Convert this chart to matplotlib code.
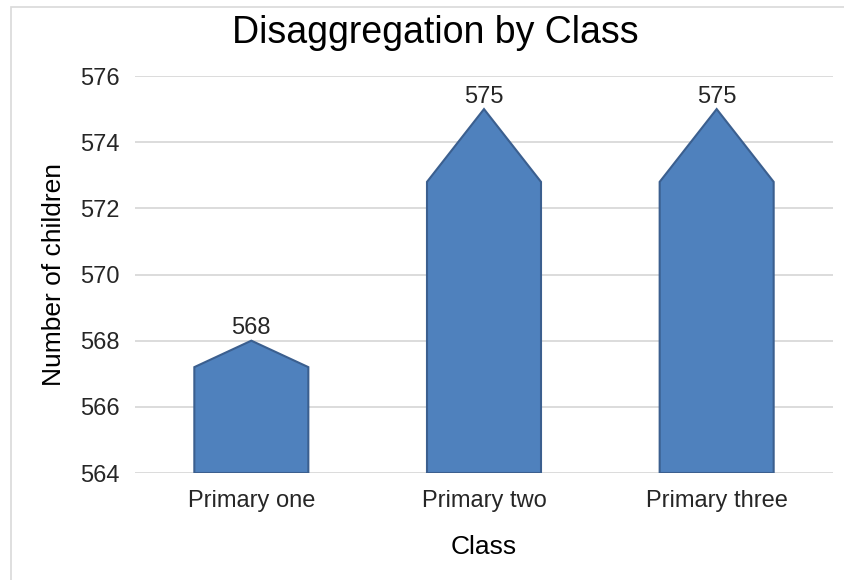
import matplotlib.pyplot as plt
from matplotlib.patches import Polygon, Rectangle

plt.rcParams['font.family'] = ['Liberation Sans', 'DejaVu Sans']

categories = ["Primary one", "Primary two", "Primary three"]
counts = [568, 575, 575]
y_ticks = [564, 566, 568, 570, 572, 574, 576]

base = 564
tip_frac = 0.2      # pointed top takes ~20% of bar height
half_w = 0.245

fig = plt.figure(figsize=(8.45, 5.8), dpi=100)
ax = fig.add_axes([135 / 845, 1 - 473 / 580, 698 / 845, 397 / 580])

# light frame of the chart area (cut off at right/bottom)
fig.patches.append(Rectangle((11 / 845, -0.1), 1.2, 1 - 7 / 580 + 0.1,
                             transform=fig.transFigure, fill=False,
                             edgecolor="#d9d9d9", linewidth=1.2))

for i, v in enumerate(counts):
    shoulder = v - (v - base) * tip_frac
    pts = [(i - half_w, base), (i - half_w, shoulder), (i, v),
           (i + half_w, shoulder), (i + half_w, base)]
    ax.add_patch(Polygon(pts, closed=True, facecolor="#4f81bd",
                         edgecolor="#3b5f8f", linewidth=1.5, zorder=3))
    ax.annotate(str(v), (i, v), xytext=(0, 1), textcoords="offset points",
                ha="center", va="bottom", fontsize=17, color="#262626")

ax.set_xlim(-0.5, len(categories) - 0.5)
ax.set_ylim(564, 576)
ax.set_yticks(y_ticks)
ax.set_xticks(range(len(categories)))
ax.set_xticklabels(categories)
ax.tick_params(length=0, labelsize=17, labelcolor="#262626")
ax.tick_params(axis="x", pad=12)
ax.tick_params(axis="y", pad=11)
ax.grid(axis="y", color="#d9d9d9", linewidth=1.3)
ax.set_axisbelow(True)
for s in ax.spines.values():
    s.set_visible(False)

ax.set_ylabel("Number of children", fontsize=19, color="#000000", labelpad=10)
ax.set_xlabel("Class", fontsize=19, color="#000000", labelpad=17)
fig.text(435 / 845, 1 - 33 / 580, "Disaggregation by Class", ha="center",
         va="center", fontsize=27)

fig.savefig("out.png", dpi=100)
